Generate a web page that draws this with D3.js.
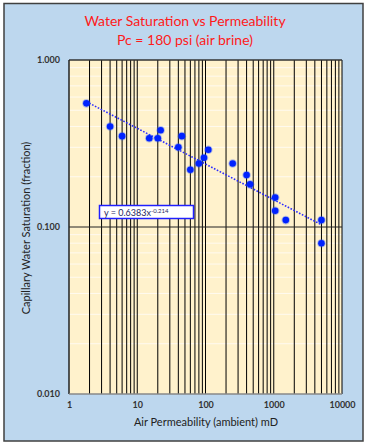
<!DOCTYPE html>
<html>
<head>
<meta charset="utf-8">
<script src="https://cdn.jsdelivr.net/npm/d3@7"></script>
<style>
  body { margin: 0; background: #ffffff; }
  svg { display: block; }
</style>
</head>
<body>
<div id="chart"></div>
<script>
// permeability (mD) and capillary water saturation (fraction)
let perm = [1.8, 4.0, 6.0, 15, 20, 22, 40, 45, 60, 80, 95, 110, 250, 400, 450, 1050, 1050, 1500, 5000, 5000];
let swc  = [0.55, 0.40, 0.35, 0.34, 0.34, 0.38, 0.30, 0.35, 0.22, 0.24, 0.26, 0.29, 0.24, 0.205, 0.18, 0.15, 0.125, 0.11, 0.11, 0.08];

let xTicks = [1, 10, 100, 1000, 10000];
let yTicks = [0.01, 0.1, 1];

// power trend line y = a * x^b
let trendA = 0.6383;
let trendB = -0.214;

let width = 368;
let height = 445;
let plot = { left: 69, top: 60, right: 342, bottom: 394 };

let svg = d3.select("#chart")
    .append("svg")
    .attr("width", width)
    .attr("height", height);

// chart background + frame
svg.append("rect")
    .attr("x", 4).attr("y", 3.5)
    .attr("width", 359).attr("height", 437.5)
    .style("fill", "#bdd7ee")
    .style("stroke", "#404040")
    .style("stroke-width", 1.5);

let x = d3.scaleLog().domain([1, 10000]).range([plot.left, plot.right]);
let y = d3.scaleLog().domain([0.01, 1]).range([plot.bottom, plot.top]);

// plot area
svg.append("rect")
    .attr("x", plot.left).attr("y", plot.top)
    .attr("width", plot.right - plot.left)
    .attr("height", plot.bottom - plot.top)
    .style("fill", "#fff2cc");

// minor horizontal gridlines (light)
let yMinor = [];
[0.01, 0.1].forEach(function (d) {
    for (let i = 2; i <= 9; i++) yMinor.push(d * i);
});
svg.append("g")
    .selectAll("line")
    .data(yMinor)
    .enter().append("line")
    .attr("x1", plot.left).attr("x2", plot.right)
    .attr("y1", d => y(d)).attr("y2", d => y(d))
    .style("stroke", "#fffaf0")
    .style("stroke-width", 1);

// vertical gridlines (every minor step)
let xGrid = [];
[1, 10, 100, 1000].forEach(function (d) {
    for (let i = 2; i <= 10; i++) xGrid.push(d * i);
});
svg.append("g")
    .selectAll("line")
    .data(xGrid)
    .enter().append("line")
    .attr("x1", d => x(d)).attr("x2", d => x(d))
    .attr("y1", plot.top).attr("y2", plot.bottom)
    .style("stroke", "#000")
    .style("stroke-width", 1);

// major horizontal gridline
svg.append("line")
    .attr("x1", plot.left).attr("x2", plot.right)
    .attr("y1", y(0.1)).attr("y2", y(0.1))
    .style("stroke", "#222")
    .style("stroke-width", 1);

// plot borders
svg.append("line")
    .attr("x1", plot.left).attr("x2", plot.right)
    .attr("y1", plot.top).attr("y2", plot.top)
    .style("stroke", "#333").style("stroke-width", 1.5);
svg.append("line")
    .attr("x1", plot.left).attr("x2", plot.left)
    .attr("y1", plot.top).attr("y2", plot.bottom)
    .style("stroke", "#222").style("stroke-width", 1.5);
svg.append("line")
    .attr("x1", plot.left).attr("x2", plot.right)
    .attr("y1", plot.bottom).attr("y2", plot.bottom)
    .style("stroke", "#888").style("stroke-width", 1.5);

// axes (labels only)
let xAxis = svg.append("g")
    .attr("transform", "translate(0," + plot.bottom + ")")
    .call(d3.axisBottom(x).tickValues(xTicks).tickFormat(d3.format("d")).tickSize(0).tickPadding(8));
let yAxis = svg.append("g")
    .attr("transform", "translate(" + plot.left + ",0)")
    .call(d3.axisLeft(y).tickValues(yTicks).tickFormat(d3.format(".3f")).tickSize(0).tickPadding(9));
[xAxis, yAxis].forEach(function (g) {
    g.select(".domain").remove();
    g.selectAll("text")
        .style("font-family", "Lato, 'Liberation Sans', sans-serif")
        .style("font-size", "9px")
        .style("font-weight", "bold")
        .style("fill", "#333");
});

// trend line
let trendX = d3.range(0, 101).map(i => Math.pow(10, Math.log10(1.8) + i * (Math.log10(5000) - Math.log10(1.8)) / 100));
svg.append("path")
    .datum(trendX)
    .attr("d", d3.line().x(d => x(d)).y(d => y(trendA * Math.pow(d, trendB))))
    .style("fill", "none")
    .style("stroke", "#2b2bff")
    .style("stroke-width", 1.6)
    .style("stroke-dasharray", "1.6,1.6");

// data points
let points = perm.map((p, i) => ({ k: p, sw: swc[i] }));
svg.append("g")
    .selectAll("circle")
    .data(points)
    .enter().append("circle")
    .attr("cx", d => x(d.k))
    .attr("cy", d => y(d.sw))
    .attr("r", 4.3)
    .style("fill", "rgba(40,90,255,0.35)");
svg.append("g")
    .selectAll("circle")
    .data(points)
    .enter().append("circle")
    .attr("cx", d => x(d.k))
    .attr("cy", d => y(d.sw))
    .attr("r", 3.3)
    .style("fill", "#0022ff");

// equation label
svg.append("rect")
    .attr("x", 99.5).attr("y", 205.5)
    .attr("width", 94).attr("height", 13)
    .style("fill", "#ffffff")
    .style("stroke", "#2020ff")
    .style("stroke-width", 1.5);
let eq = svg.append("text")
    .attr("x", 104).attr("y", 215.5)
    .style("font-family", "Lato, 'Liberation Sans', sans-serif")
    .style("font-size", "9px")
    .style("fill", "#1f1f5f");
eq.append("tspan").text("y = 0.6383x");
eq.append("tspan").attr("dy", -3).style("font-size", "6px").text("-0.214");

// titles
svg.append("text")
    .attr("x", 185).attr("y", 26)
    .attr("text-anchor", "middle")
    .style("font-family", "Lato, 'Liberation Sans', sans-serif")
    .style("font-size", "14px")
    .style("fill", "#ff1a1a")
    .text("Water Saturation vs Permeability");
svg.append("text")
    .attr("x", 185).attr("y", 45)
    .attr("text-anchor", "middle")
    .style("font-family", "Lato, 'Liberation Sans', sans-serif")
    .style("font-size", "14px")
    .style("fill", "#ff1a1a")
    .text("Pc = 180 psi (air brine)");

svg.append("text")
    .attr("x", 206).attr("y", 426)
    .attr("text-anchor", "middle")
    .style("font-family", "Lato, 'Liberation Sans', sans-serif")
    .style("font-size", "11px")
    .style("fill", "#222")
    .text("Air Permeability (ambient) mD");

svg.append("text")
    .attr("transform", "translate(30,228) rotate(-90)")
    .attr("text-anchor", "middle")
    .style("font-family", "Lato, 'Liberation Sans', sans-serif")
    .style("font-size", "11px")
    .style("fill", "#222")
    .text("Capillary Water Saturation (fraction)");
</script>
</body>
</html>
